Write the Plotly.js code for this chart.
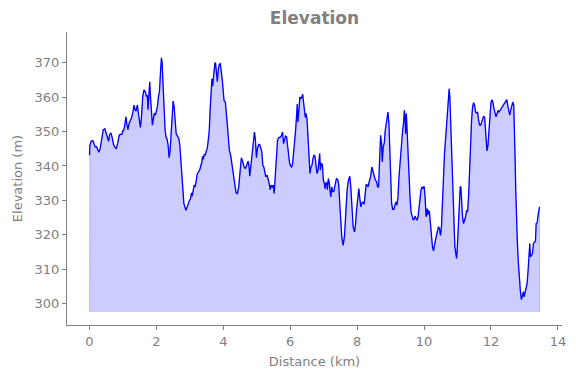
<!DOCTYPE html>
<html>
<head>
<meta charset="utf-8">
<script src="https://cdn.plot.ly/plotly-3.0.1.min.js"></script>
<style>html,body{margin:0;padding:0;background:#fff;}#chart{width:576px;height:378px;}</style>
</head>
<body>
<div id="chart"></div>
<script>
const distKm = [0, 0.01, 0.05, 0.10, 0.14, 0.17, 0.21, 0.25, 0.28, 0.32, 0.37, 0.41, 0.46, 0.50, 0.54, 0.57, 0.60, 0.64, 0.68, 0.72, 0.76, 0.80, 0.84, 0.89, 0.93, 0.97, 1.00, 1.02, 1.05, 1.09, 1.12, 1.15, 1.18, 1.22, 1.26, 1.30, 1.33, 1.36, 1.39, 1.43, 1.46, 1.49, 1.52, 1.55, 1.59, 1.63, 1.67, 1.70, 1.73, 1.75, 1.77, 1.80, 1.82, 1.85, 1.88, 1.91, 1.94, 1.97, 2.00, 2.03, 2.06, 2.09, 2.12, 2.15, 2.17, 2.20, 2.23, 2.26, 2.29, 2.32, 2.35, 2.38, 2.41, 2.44, 2.47, 2.50, 2.53, 2.56, 2.59, 2.63, 2.67, 2.70, 2.73, 2.76, 2.79, 2.82, 2.85, 2.88, 2.91, 2.95, 2.99, 3.02, 3.05, 3.07, 3.10, 3.13, 3.16, 3.19, 3.22, 3.26, 3.30, 3.33, 3.36, 3.38, 3.40, 3.43, 3.46, 3.49, 3.52, 3.55, 3.58, 3.61, 3.64, 3.66, 3.68, 3.70, 3.73, 3.75, 3.77, 3.80, 3.82, 3.85, 3.88, 3.91,
  3.97, 4.02, 4.06, 4.10, 4.14, 4.18, 4.22, 4.26, 4.30, 4.34, 4.38, 4.42, 4.46, 4.50, 4.54, 4.58, 4.62, 4.66, 4.70, 4.74, 4.77, 4.79, 4.82, 4.86, 4.90, 4.93, 4.96, 4.99, 5.02, 5.06, 5.09, 5.12, 5.15, 5.18, 5.21, 5.24, 5.27, 5.31, 5.34, 5.37, 5.40, 5.43, 5.46, 5.49, 5.52, 5.55, 5.58, 5.62, 5.66, 5.70, 5.74, 5.77, 5.80, 5.83, 5.86, 5.89, 5.92, 5.95, 5.98, 6.01, 6.04, 6.07, 6.10, 6.13, 6.16, 6.19, 6.21, 6.23, 6.25, 6.27, 6.29, 6.31, 6.34, 6.37, 6.39, 6.42, 6.45, 6.47, 6.50, 6.53, 6.56, 6.59, 6.62, 6.65, 6.68, 6.71, 6.74, 6.77, 6.80, 6.83, 6.86, 6.88, 6.90, 6.93, 6.96, 6.99, 7.02, 7.04, 7.06, 7.09, 7.11, 7.14, 7.17, 7.21, 7.24, 7.27, 7.30, 7.34, 7.38, 7.42, 7.45, 7.48, 7.51, 7.54, 7.58, 7.62, 7.66, 7.70, 7.74, 7.78, 7.81, 7.84, 7.88, 7.92, 7.95, 7.98, 8.01, 8.05, 8.08, 8.11, 8.14, 8.17, 8.21, 8.24, 8.27, 8.30, 8.33, 8.36, 8.40, 8.44, 8.47, 8.50, 8.54, 8.58, 8.61, 8.64, 8.67, 8.70, 8.73, 8.75, 8.78, 8.81, 8.84, 8.88, 8.92, 8.95, 8.98,
  9.03, 9.06, 9.10, 9.13, 9.16, 9.19, 9.22, 9.25, 9.29, 9.33, 9.36, 9.39, 9.41, 9.43, 9.45, 9.47, 9.49, 9.52, 9.55, 9.58, 9.61, 9.64, 9.67, 9.70, 9.73, 9.76, 9.79, 9.82, 9.85, 9.88, 9.91, 9.94, 9.97, 10.00, 10.03, 10.06, 10.09, 10.11, 10.13, 10.16, 10.19, 10.22, 10.25, 10.28, 10.31, 10.34, 10.37, 10.40, 10.43, 10.46, 10.49, 10.52, 10.55, 10.58, 10.61, 10.64, 10.67, 10.70, 10.73, 10.75, 10.77, 10.80, 10.83, 10.86, 10.89, 10.92, 10.95, 10.97, 10.99, 11.02, 11.05, 11.08, 11.10, 11.12, 11.15, 11.18, 11.21, 11.24, 11.27, 11.30, 11.33, 11.36, 11.39, 11.42, 11.45, 11.48, 11.51, 11.54, 11.57, 11.60, 11.63, 11.66, 11.69, 11.72, 11.75, 11.78, 11.81, 11.84, 11.86, 11.88, 11.91, 11.94, 11.97, 12.00, 12.03, 12.06, 12.09, 12.12, 12.15, 12.18, 12.21, 12.24, 12.27, 12.30, 12.34, 12.37, 12.40, 12.43, 12.47, 12.50, 12.53, 12.56, 12.59, 12.62, 12.65, 12.68, 12.70, 12.72, 12.74, 12.76, 12.79, 12.82, 12.85, 12.88, 12.91, 12.94, 12.97, 12.99, 13.02, 13.05, 13.08, 13.11, 13.14, 13.16, 13.18, 13.21, 13.24, 13.27, 13.30, 13.33, 13.35, 13.38, 13.41, 13.45];

const elevationM = [343.1, 346.0, 347.2, 347.4, 346.3, 345.6, 345.6, 344.6, 344.0, 345.1, 348.5, 350.5, 350.8, 349.4, 347.5, 347.2, 349.1, 349.6, 348.2, 346.2, 345.5, 345.0, 346.5, 349.0, 349.2, 349.2, 350.4, 350.2, 351.6, 354.3, 351.9, 350.6, 352.3, 353.3, 354.1, 355.8, 357.7, 356.4, 356.0, 357.7, 355.7, 353.3, 351.2, 353.8, 360.1, 362.2, 361.5, 360.3, 360.4, 356.4, 360.1, 364.5, 360.6, 355.3, 351.9, 353.8, 355.4, 354.8, 355.7, 357.2, 360.1, 361.6, 366.9, 371.5, 370.0, 363.0, 355.3, 350.4, 348.3, 347.8, 346.0, 342.4, 344.6, 350.4, 356.2, 358.9, 357.2, 351.4, 349.4, 348.7, 348.0, 346.0, 342.6, 337.8, 333.4, 329.1, 327.6, 327.1, 327.8, 329.1, 330.0, 330.5, 332.2, 331.2, 333.4, 334.4, 333.9, 336.3, 337.6, 338.3, 339.0, 340.2, 341.2, 342.8, 341.9, 343.4, 343.1, 344.4, 345.1, 347.5, 350.4, 357.2, 363.0, 365.4, 363.2, 365.1, 368.3, 370.1, 369.8, 366.9, 364.5, 368.1, 369.6, 369.8,
  365.0, 359.1, 358.6, 354.3, 349.4, 344.6, 343.1, 340.2, 337.3, 334.4, 332.2, 332.0, 333.9, 338.3, 342.4, 341.2, 339.7, 339.2, 340.5, 341.4, 339.7, 337.0, 339.7, 343.6, 348.5, 349.9, 347.5, 342.4, 345.1, 346.3, 346.2, 344.8, 344.1, 340.2, 339.7, 338.3, 336.8, 337.3, 336.3, 334.9, 333.1, 334.4, 333.9, 334.4, 332.0, 335.9, 342.6, 347.5, 348.3, 348.3, 348.9, 349.9, 346.5, 347.5, 348.7, 348.5, 345.6, 343.1, 340.9, 340.0, 339.7, 340.7, 343.6, 346.0, 350.4, 354.8, 358.0, 352.8, 356.2, 357.7, 360.1, 359.6, 359.9, 360.9, 358.6, 356.2, 354.1, 355.3, 353.8, 348.5, 342.6, 337.8, 339.7, 340.2, 342.2, 343.1, 342.8, 338.8, 337.8, 338.8, 341.2, 343.6, 338.8, 340.7, 340.5, 335.9, 334.9, 333.4, 334.9, 335.1, 333.1, 336.3, 334.9, 331.0, 333.9, 332.5, 332.5, 334.7, 336.3, 336.0, 334.4, 329.1, 323.2, 319.4, 316.9, 319.4, 326.2, 333.0, 335.9, 337.0, 333.9, 328.1, 322.3, 320.8, 322.8, 327.1, 330.5, 333.4, 330.5, 328.1, 329.1, 329.5, 328.9, 332.0, 334.7, 334.4, 333.9, 335.4, 336.8, 339.7, 338.3, 336.8, 336.0, 335.4, 333.9, 333.9, 340.7, 348.9, 346.5, 341.2, 345.6, 346.7, 350.4, 353.3, 355.7, 352.3, 344.6,
  329.1, 327.4, 327.4, 328.6, 329.5, 328.6, 331.0, 336.8, 342.6, 347.5, 350.4, 352.8, 356.2, 354.3, 349.4, 355.3, 350.4, 340.7, 334.9, 331.0, 326.6, 325.2, 324.4, 324.4, 325.4, 324.7, 324.2, 325.2, 328.1, 331.5, 333.1, 333.9, 333.4, 334.1, 331.0, 325.2, 327.6, 325.7, 327.1, 326.6, 323.2, 319.4, 316.5, 315.3, 317.4, 318.4, 319.8, 321.3, 322.3, 321.8, 319.8, 322.3, 331.0, 338.8, 343.6, 347.5, 352.3, 357.2, 360.6, 362.5, 360.1, 351.4, 342.6, 333.0, 324.2, 316.5, 314.5, 313.1, 315.5, 322.3, 329.1, 333.9, 333.9, 329.1, 325.2, 323.2, 324.2, 325.2, 327.1, 326.6, 331.0, 340.7, 347.5, 353.3, 357.2, 358.4, 357.7, 355.7, 355.4, 355.7, 353.3, 351.9, 351.9, 352.8, 354.1, 354.5, 354.1, 350.4, 347.5, 344.4, 346.0, 351.4, 355.7, 358.6, 359.3, 358.4, 356.7, 355.3, 354.3, 355.1, 356.2, 355.7, 356.2, 356.4, 357.2, 357.7, 358.2, 358.6, 359.3, 357.7, 355.7, 354.8, 356.2, 357.7, 358.6, 357.7, 352.3, 342.6, 333.0, 324.2, 317.4, 311.6, 306.8, 303.4, 301.1, 302.4, 303.4, 301.9, 303.4, 304.3, 305.8, 309.7, 316.5, 317.4, 313.5, 314.3, 314.5, 317.4, 317.9, 318.2, 323.2, 323.4, 325.7, 328.1];

const baseElevation = 297.5;
const xTickVals = [0, 2, 4, 6, 8, 10, 12, 14];
const yTickVals = [300, 310, 320, 330, 340, 350, 360, 370];

const n = distKm.length;
const polyX = [distKm[0]].concat(distKm, [distKm[n - 1]]);
const polyY = [baseElevation].concat(elevationM, [baseElevation]);

const gray = '#808080';
const font = 'DejaVu Sans, sans-serif';

const traces = [
  {x: polyX, y: polyY, type: 'scatter', mode: 'lines', fill: 'toself',
   fillcolor: 'rgba(0,0,255,0.2)', line: {color: 'rgba(0,0,255,0.2)', width: 1},
   hoverinfo: 'skip', showlegend: false},
  {x: distKm, y: elevationM, type: 'scatter', mode: 'lines',
   line: {color: '#0000ff', width: 1.3}, showlegend: false}
];

const axisCommon = {
  showline: true, linecolor: gray, linewidth: 1, mirror: false,
  ticks: 'outside', ticklen: 4, tickwidth: 1, tickcolor: gray,
  showgrid: false, zeroline: false,
  tickfont: {family: font, size: 13, color: gray}
};

const layout = {
  width: 576, height: 378,
  margin: {l: 67, r: 14, t: 32, b: 53},
  paper_bgcolor: '#ffffff', plot_bgcolor: '#ffffff',
  font: {family: font, color: gray},
  title: {text: '<b>Elevation</b>', font: {family: font, size: 17, color: gray},
          x: 0.5, xref: 'paper', y: 0.952, yref: 'container', yanchor: 'middle'},
  xaxis: Object.assign({}, axisCommon, {
    range: [-0.6725, 14.1225], tickmode: 'array', tickvals: xTickVals,
    title: {text: 'Distance (km)', font: {family: font, size: 13, color: gray}, standoff: 9}
  }),
  yaxis: Object.assign({}, axisCommon, {
    range: [293.7, 379.0], tickmode: 'array', tickvals: yTickVals,
    title: {text: 'Elevation (m)', font: {family: font, size: 13, color: gray}, standoff: 9}
  })
};

Plotly.newPlot('chart', traces, layout, {staticPlot: true, displayModeBar: false});
</script>
</body>
</html>
